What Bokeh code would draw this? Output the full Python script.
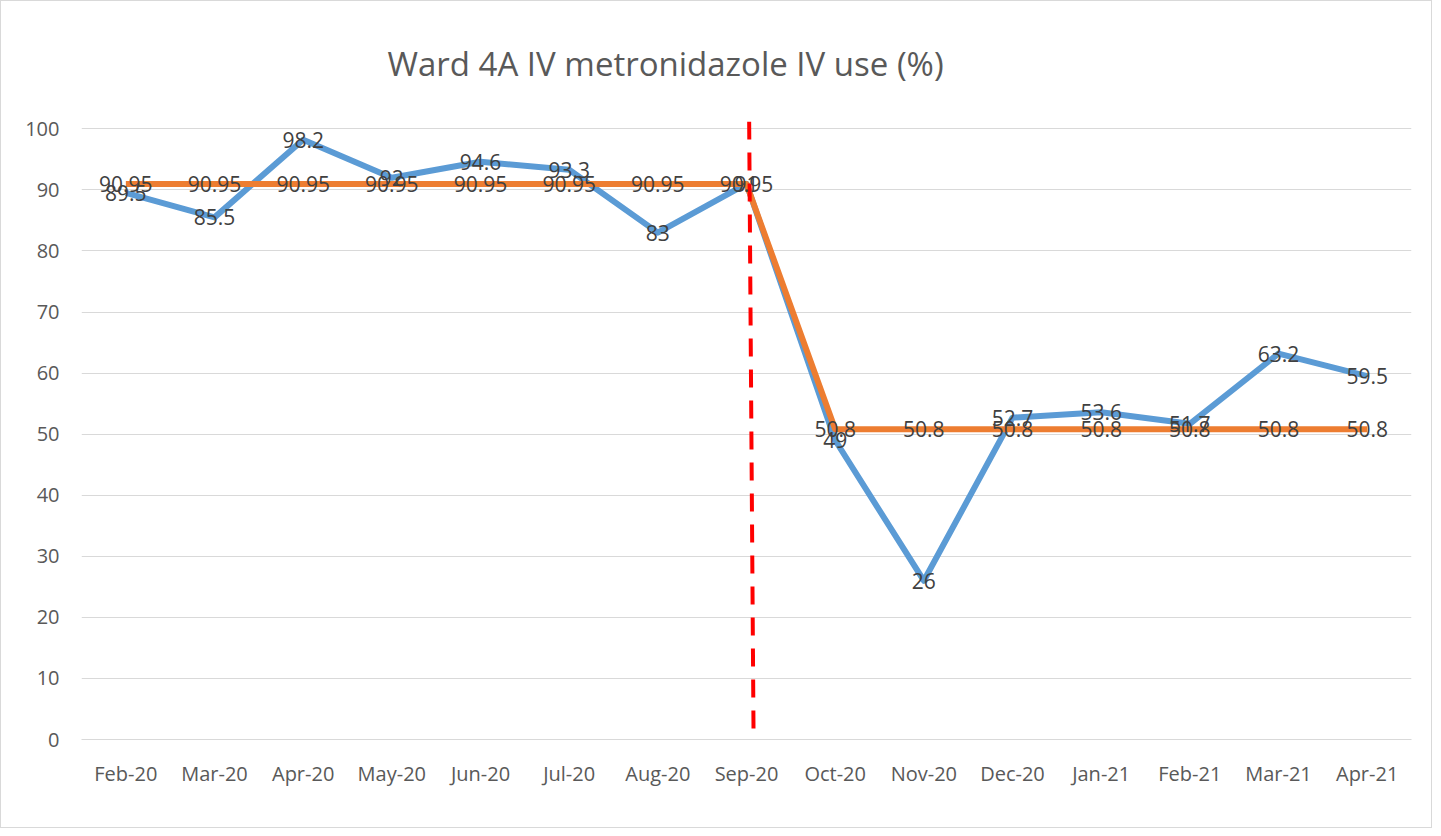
from bokeh.plotting import figure
from bokeh.models import ColumnDataSource, FixedTicker, Range1d
from bokeh.core.properties import value
from bokeh.embed import file_html
from bokeh.resources import INLINE

months = ["Feb-20", "Mar-20", "Apr-20", "May-20", "Jun-20", "Jul-20", "Aug-20", "Sep-20",
          "Oct-20", "Nov-20", "Dec-20", "Jan-21", "Feb-21", "Mar-21", "Apr-21"]
iv_use = [89.5, 85.5, 98.2, 92, 94.6, 93.3, 83, 91, 49, 26, 52.7, 53.6, 51.7, 63.2, 59.5]
iv_labels = ["89.5", "85.5", "98.2", "92", "94.6", "93.3", "83", "91", "49", "26",
             "52.7", "53.6", "51.7", "63.2", "59.5"]
median = [90.95] * 8 + [50.8] * 7
median_labels = ["90.95"] * 8 + ["50.8"] * 7
y_ticks = [0, 10, 20, 30, 40, 50, 60, 70, 80, 90, 100]
title_text = "Ward 4A IV metronidazole IV use (%)"
intervention_month = "Sep-20"

FONT = "Open Sans"
idx = list(range(len(months)))

p = figure(width=1432, height=828, output_backend="svg", toolbar_location=None,
           x_range=Range1d(-0.5, len(months) - 0.5), y_range=Range1d(0, 101.2),
           min_border_left=80, min_border_right=22, min_border_top=120, min_border_bottom=90,
           title=title_text)
p.styles = {"border": "1px solid #d9d9d9"}
p.outline_line_color = None
p.background_fill_color = "white"

p.title.align = "left"
p.title.offset = 306
p.title.vertical_align = "top"
p.title.text_font = FONT
p.title.text_font_size = "33px"
p.title.text_font_style = "normal"
p.title.text_color = "#595959"
p.title.standoff = 68

# grid
p.xgrid.grid_line_color = None
p.ygrid.grid_line_color = "#d9d9d9"
p.ygrid.grid_line_width = 1
p.yaxis.ticker = FixedTicker(ticks=y_ticks)
p.xaxis.ticker = FixedTicker(ticks=idx)
p.xaxis.major_label_overrides = {i: m for i, m in enumerate(months)}

for ax in (p.xaxis, p.yaxis):
    ax.major_tick_line_color = None
    ax.minor_tick_line_color = None
    ax.major_tick_out = 0
    ax.major_tick_in = 0
    ax.major_label_text_font = FONT
    ax.major_label_text_font_size = "20px"
    ax.major_label_text_color = "#595959"
p.yaxis.axis_line_color = None
p.xaxis.axis_line_color = "#d9d9d9"
p.xaxis.major_label_standoff = 20
p.yaxis.major_label_standoff = 22

src = ColumnDataSource(dict(x=idx, iv=iv_use, ivl=iv_labels, med=median, medl=median_labels))

p.line("x", "iv", source=src, line_color="#5b9bd5", line_width=6, line_join="round")
p.line("x", "med", source=src, line_color="#ed7d31", line_width=6, line_join="round")

# intervention line
xi = months.index(intervention_month)
p.segment(x0=[xi + 0.03], y0=[101.2], x1=[xi + 0.08], y1=[-0.3], line_color="#ff0000",
          line_width=4, line_dash="18 13")

p.text("x", "med", text="medl", source=src, text_align="center", text_baseline="middle",
       text_font=value(FONT), text_font_size="21px", text_color="#404040")
p.text("x", "iv", text="ivl", source=src, text_align="center", text_baseline="middle",
       text_font=value(FONT), text_font_size="21px", text_color="#404040")

open("out.html", "w").write(file_html(p, INLINE))
